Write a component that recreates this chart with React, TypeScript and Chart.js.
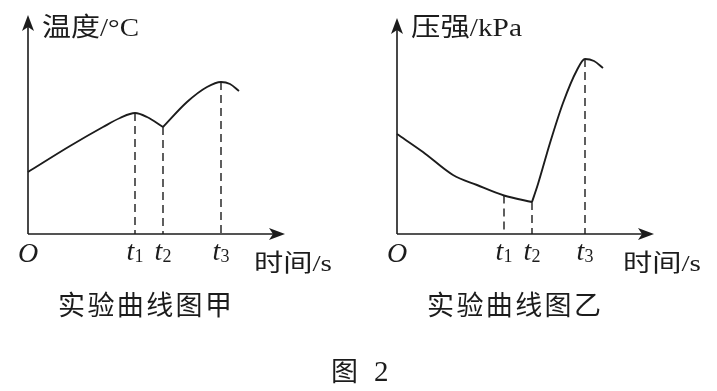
import React, { useEffect, useRef } from "react";
import { Chart, registerables } from "chart.js";
Chart.register(...registerables);

// ---------- data (arbitrary units) ----------
const tempTimesA = [0, 4.2, 7.5, 9.2, 10.7, 11.9, 13.5];
const tempValuesA = [6.2, 8.8, 10.7, 11.6, 12.1, 11.7, 10.7];
const tempTimesB = [13.5, 15.9, 17.9, 19.3, 20.2, 21.1];
const tempValuesB = [10.7, 13.2, 14.7, 15.2, 15.0, 14.3];
const tempMarkTimes = [10.7, 13.5, 19.3];
const tempMarkValues = [12.1, 10.7, 15.2];

const presTimesA = [0, 2.6, 5.6, 8.0, 10.7, 13.5];
const presValuesA = [10.0, 8.2, 5.9, 4.9, 3.85, 3.2];
const presTimesB = [13.5, 14.1, 15.3, 16.6, 18.0, 18.8, 19.7, 20.6];
const presValuesB = [3.2, 5.0, 9.1, 13.1, 16.4, 17.5, 17.3, 16.6];
const presMarkTimes = [10.7, 13.5, 18.8];
const presMarkValues = [3.85, 3.2, 17.5];

const tickBase = "t";
const tickSubs = ["1", "2", "3"];
const originLabel = "O";
const xTitle = "时间/s";
const tempTitle = "温度/°C";
const presTitle = "压强/kPa";
const tempCaption = "实验曲线图甲";
const presCaption = "实验曲线图乙";
const figCaptionA = "图";
const figCaptionB = "2";

const X_MAX = 26;
const Y_MAX = 22;
const X_ARROW = 25.7;

const INK = "#1c1c1c";
const SERIF = '"Liberation Serif", "Noto Sans CJK SC"';
const CJK = '"Noto Sans CJK SC", "Liberation Serif"';

function pts(xs: number[], ys: number[]) {
  return xs.map((x, i) => ({ x, y: ys[i] }));
}

function drawArrow(ctx: CanvasRenderingContext2D, tx: number, ty: number, dx: number, dy: number) {
  const len = 16, half = 6, notch = 12;
  const px = -dy, py = dx;
  ctx.beginPath();
  ctx.moveTo(tx, ty);
  ctx.lineTo(tx - dx * len + px * half, ty - dy * len + py * half);
  ctx.lineTo(tx - dx * notch, ty - dy * notch);
  ctx.lineTo(tx - dx * len - px * half, ty - dy * len - py * half);
  ctx.closePath();
  ctx.fill();
}

function fitText(ctx: CanvasRenderingContext2D, text: string, left: number, base: number, font: string, width?: number) {
  ctx.save();
  ctx.font = font;
  ctx.textAlign = "left";
  ctx.textBaseline = "alphabetic";
  const w = ctx.measureText(text).width;
  const s = width ? width / w : 1;
  ctx.translate(left, base);
  ctx.scale(s, 1);
  ctx.fillText(text, 0, 0);
  ctx.restore();
}

const decorPlugin = {
  id: "decor",
  afterDraw(chart: any, _args: any, opts: any) {
    const ctx: CanvasRenderingContext2D = chart.ctx;
    const xs = chart.scales.x, ys = chart.scales.y;
    const ox = xs.getPixelForValue(0), oy = ys.getPixelForValue(0);
    const ax = xs.getPixelForValue(X_ARROW), ay = ys.getPixelForValue(opts.yArrow);
    ctx.save();
    ctx.strokeStyle = INK;
    ctx.fillStyle = INK;
    ctx.lineWidth = 1.6;
    ctx.beginPath();
    ctx.moveTo(ox, oy);
    ctx.lineTo(ax - 10, oy);
    ctx.moveTo(ox, oy);
    ctx.lineTo(ox, ay + 10);
    ctx.stroke();
    drawArrow(ctx, ax, oy, 1, 0);
    drawArrow(ctx, ox, ay, 0, -1);

    // origin
    ctx.font = `italic 28px ${SERIF}`;
    ctx.textAlign = "center";
    ctx.textBaseline = "alphabetic";
    ctx.fillText(originLabel, ox, oy + 28);

    // tick labels t1 t2 t3
    opts.marks.forEach((t: number, i: number) => {
      const px = xs.getPixelForValue(t);
      ctx.font = `italic 28px ${SERIF}`;
      const wb = ctx.measureText(tickBase).width;
      ctx.font = `18px ${SERIF}`;
      const ws = ctx.measureText(tickSubs[i]).width;
      const left = px - (wb + ws) / 2;
      ctx.textAlign = "left";
      ctx.font = `italic 28px ${SERIF}`;
      ctx.fillText(tickBase, left, oy + 26);
      ctx.font = `18px ${SERIF}`;
      ctx.fillText(tickSubs[i], left + wb, oy + 28);
    });

    // axis titles
    fitText(ctx, opts.yTitle, ox + 14, 36, `26px ${SERIF}`, opts.yTitleWidth);
    fitText(ctx, xTitle, ax - 31, oy + 37, `24px ${SERIF}`, 78);

    // caption
    ctx.font = `27px ${CJK}`;
    ctx.textAlign = "left";
    const chars = Array.from(opts.caption as string);
    chars.forEach((c, i) => ctx.fillText(c, ox + 30 + i * 29.4, oy + 81));

    if (opts.figure) {
      ctx.font = `27px ${CJK}`;
      ctx.fillText(figCaptionA, 331, 381);
      ctx.font = `29px ${SERIF}`;
      ctx.fillText(figCaptionB, 374, 381);
    }
    ctx.restore();
  },
};

function makeConfig(
  timesA: number[], valuesA: number[], timesB: number[], valuesB: number[],
  markT: number[], markV: number[], padding: any, decor: any
): any {
  const curve = (d: any) => ({
    data: d, borderColor: INK, borderWidth: 1.9, pointRadius: 0,
    cubicInterpolationMode: "monotone", fill: false, clip: false,
  });
  const dashed = markT.map((t, i) => ({
    data: [{ x: t, y: markV[i] }, { x: t, y: 0 }],
    borderColor: INK, borderWidth: 1.4, borderDash: [8, 5], pointRadius: 0, fill: false, clip: false,
  }));
  return {
    type: "line",
    data: { datasets: [curve(pts(timesA, valuesA)), curve(pts(timesB, valuesB)), ...dashed] },
    options: {
      responsive: false,
      animation: false,
      devicePixelRatio: 1,
      layout: { padding },
      scales: {
        x: { type: "linear", min: 0, max: X_MAX, display: false },
        y: { type: "linear", min: 0, max: Y_MAX, display: false },
      },
      plugins: { legend: { display: false }, tooltip: { enabled: false }, title: { display: false }, decor },
    },
    plugins: [decorPlugin],
  };
}

export default function App() {
  const leftRef = useRef<HTMLCanvasElement>(null);
  const rightRef = useRef<HTMLCanvasElement>(null);
  useEffect(() => {
    const c1 = new Chart(leftRef.current!, makeConfig(
      tempTimesA, tempValuesA, tempTimesB, tempValuesB, tempMarkTimes, tempMarkValues,
      { left: 28, right: 717 - 288, top: 14, bottom: 157 },
      { marks: tempMarkTimes, yTitle: tempTitle, yTitleWidth: 97, caption: tempCaption, figure: true, yArrow: 21.9 }
    ));
    const c2 = new Chart(rightRef.current!, makeConfig(
      presTimesA, presValuesA, presTimesB, presValuesB, presMarkTimes, presMarkValues,
      { left: 397, right: 717 - 657, top: 14, bottom: 157 },
      { marks: presMarkTimes, yTitle: presTitle, yTitleWidth: 111, caption: presCaption, figure: false, yArrow: 21.6 }
    ));
    return () => { c1.destroy(); c2.destroy(); };
  }, []);
  const cs: React.CSSProperties = { position: "absolute", left: 0, top: 0 };
  return (
    <div style={{ position: "fixed", left: 0, top: 0, width: 717, height: 391, background: "#fff" }}>
      <canvas ref={leftRef} width={717} height={391} style={cs} />
      <canvas ref={rightRef} width={717} height={391} style={cs} />
    </div>
  );
}
